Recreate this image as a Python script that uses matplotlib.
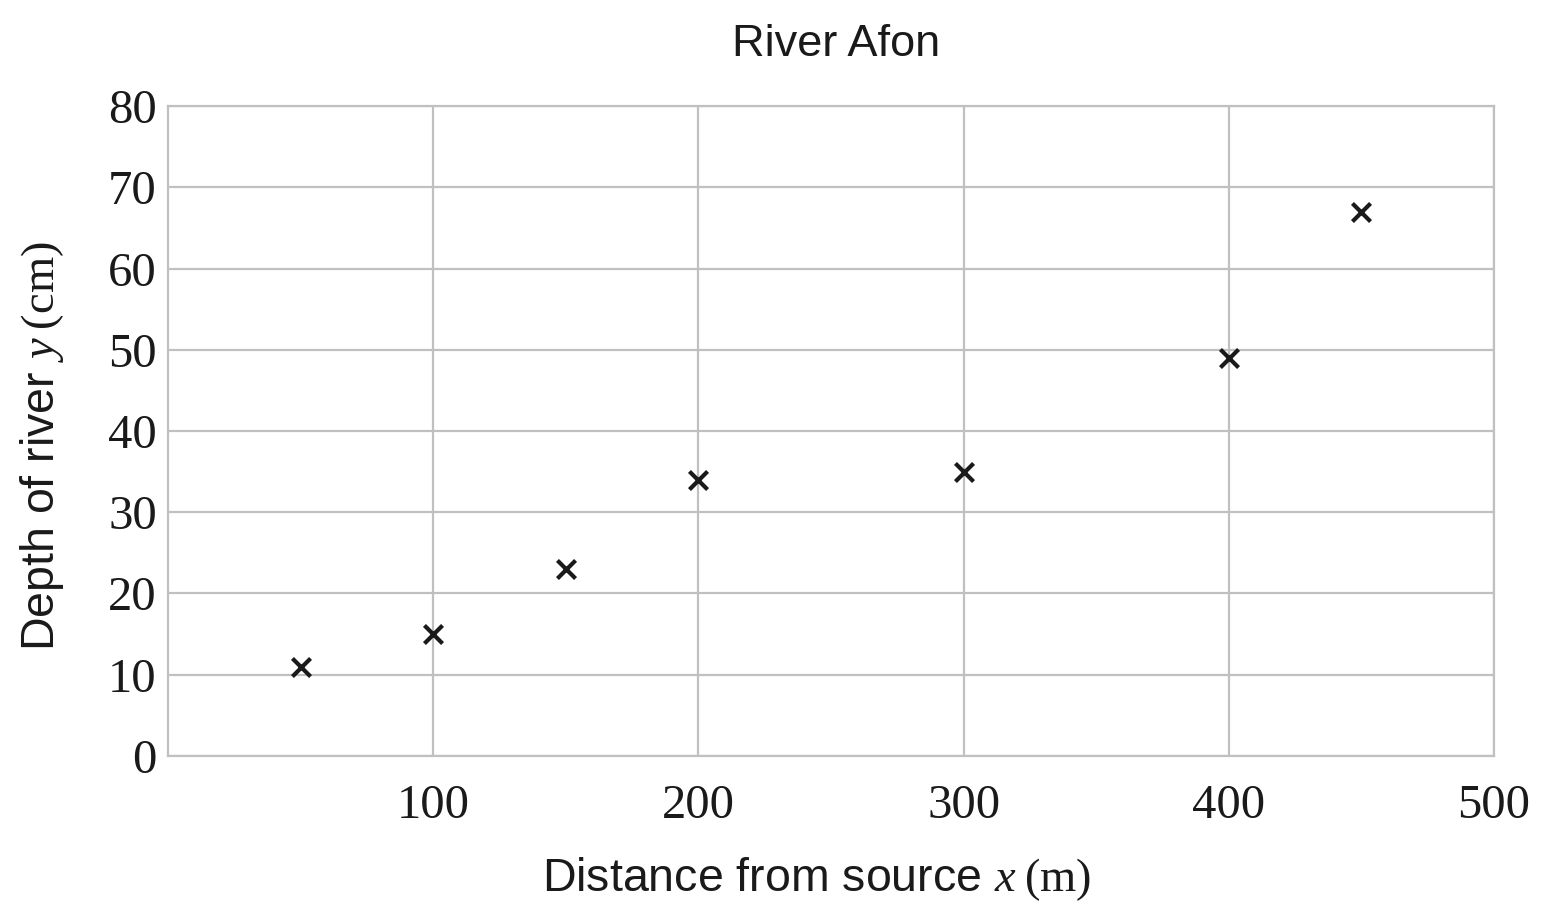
import matplotlib
matplotlib.use('Agg')
import matplotlib.pyplot as plt

# data
distance = [50, 100, 150, 200, 300, 400, 450]
depth = [11, 15, 23, 34, 35, 49, 67]
x_ticks = [100, 200, 300, 400, 500]
y_ticks = [0, 10, 20, 30, 40, 50, 60, 70, 80]

plt.rcParams['font.family'] = 'Liberation Sans'
plt.rcParams['mathtext.fontset'] = 'custom'
plt.rcParams['mathtext.rm'] = 'Liberation Serif'
plt.rcParams['mathtext.it'] = 'Liberation Serif:italic'

grey = '#c0c0c0'
fig = plt.figure(figsize=(15.55, 9.18), dpi=100)
ax = fig.add_axes([0.108, 0.1765, 0.8528, 0.708])

ax.scatter(distance, depth, marker='x', s=170, color='#1a1a1a', linewidths=3.0, zorder=3)

ax.set_xlim(0, 500)
ax.set_ylim(0, 80)
ax.set_xticks(x_ticks)
ax.set_yticks(y_ticks)
ax.grid(True, color=grey, linewidth=1.6)
ax.set_axisbelow(True)
for s in ax.spines.values():
    s.set_color(grey)
    s.set_linewidth(1.6)
ax.tick_params(length=0, labelsize=35, labelcolor='#1a1a1a')
ax.tick_params(axis='x', pad=20)
ax.tick_params(axis='y', pad=8)
for lab in ax.get_xticklabels() + ax.get_yticklabels():
    lab.set_fontfamily('Liberation Serif')

ax.set_xlabel(r'Distance from source $x\;(\mathrm{m})$', fontsize=33.5, labelpad=20, color='#1a1a1a')
ax.set_ylabel(r'Depth of river $y\;(\mathrm{cm})$', fontsize=33.5, labelpad=30, color='#1a1a1a')
ax.xaxis.label.set_x(0.489)
ax.yaxis.label.set_y(0.477)
ax.set_title('River Afon', fontsize=32.5, pad=36, color='#1a1a1a', x=0.504)

plt.savefig('out.png', dpi=100)
